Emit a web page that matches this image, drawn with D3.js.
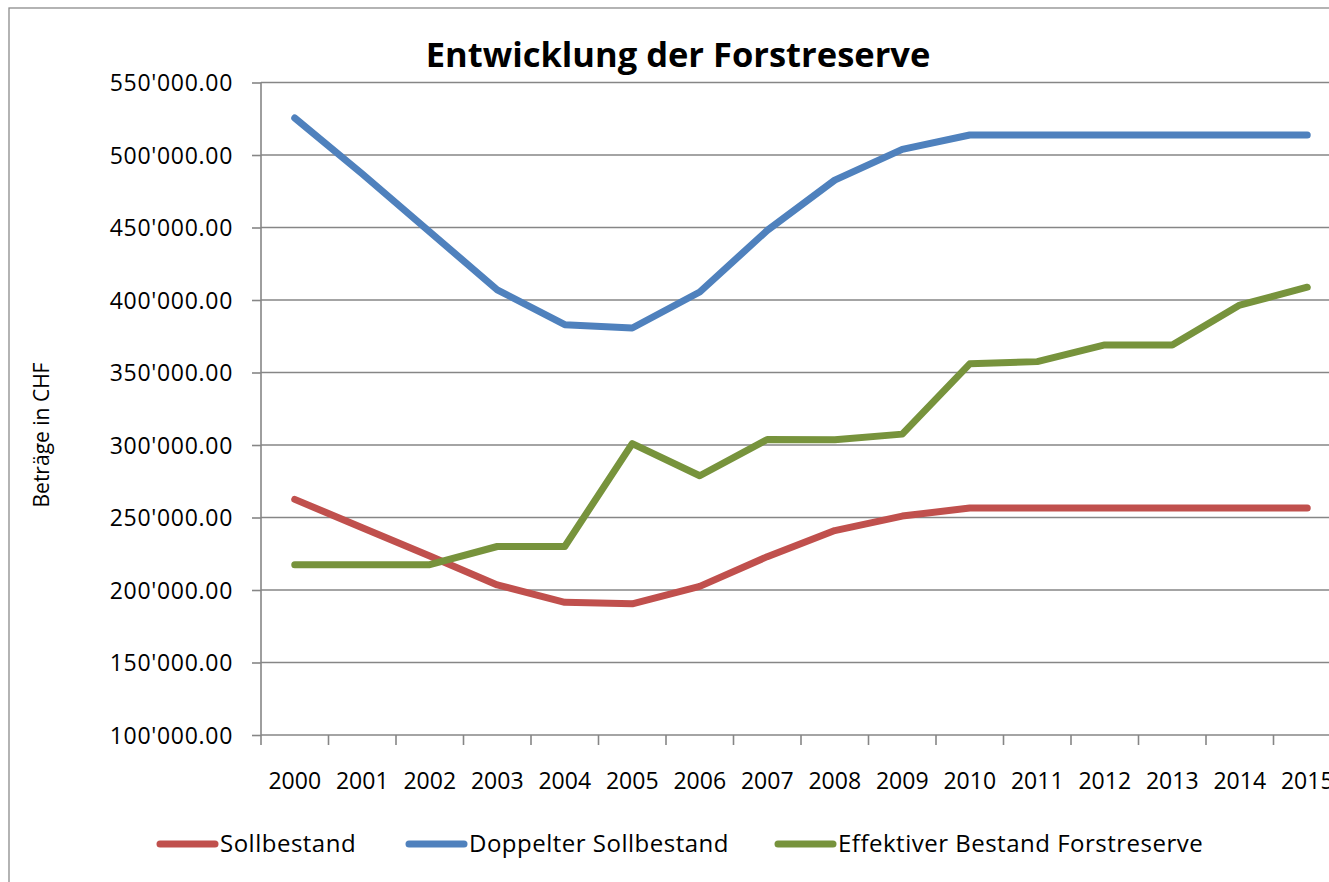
<!DOCTYPE html>
<html>
<head>
<meta charset="utf-8">
<script src="https://cdn.jsdelivr.net/npm/d3@7"></script>
<style>
  body { margin: 0; background: #fff; overflow: hidden; }
  svg { display: block; font-family: "Open Sans", "Noto Sans", sans-serif; }
  .grid line { stroke: #868686; stroke-width: 1.6; }
  .axis path, .axis line { stroke: #868686; stroke-width: 1.6; }
  .axis text { fill: #000; font-size: 23px; font-family: "Open Sans", "Noto Sans", sans-serif; }
  .yaxis text { letter-spacing: 0.7px; }
</style>
</head>
<body>
<svg id="chart"></svg>
<script>
// data
var years = ["2000", "2001", "2002", "2003", "2004", "2005", "2006", "2007",
  "2008", "2009", "2010", "2011", "2012", "2013", "2014", "2015"];
var sollbestand = [262500, 243000, 223500, 203500, 191500, 190500, 202500, 223000,
  241000, 251000, 256500, 256500, 256500, 256500, 256500, 256500];
var doppelterSoll = [525500, 487000, 447000, 407000, 383000, 380700, 405500, 448000,
  482700, 503900, 513800, 513800, 513800, 513800, 513800, 513800];
var effektiv = [217500, 217500, 217500, 230000, 230000, 301000, 278800, 303800,
  303600, 307500, 356000, 357500, 369000, 369000, 396500, 408800];
var yTicks = [100000, 150000, 200000, 250000, 300000, 350000, 400000, 450000, 500000, 550000];

var series = [
  { name: "Sollbestand", values: sollbestand, color: "#C0504D" },
  { name: "Doppelter Sollbestand", values: doppelterSoll, color: "#4F81BD" },
  { name: "Effektiver Bestand Forstreserve", values: effektiv, color: "#77933C" }
];

var screen = { width: 1329, height: 882 };
var plot = { left: 261, top: 82.5, right: 1341, bottom: 735 };

var svg = d3.select("#chart").attr("width", screen.width).attr("height", screen.height);

// outer chart border
svg.append("rect")
  .attr("x", 9).attr("y", 8)
  .attr("width", 1400).attr("height", 1000)
  .attr("fill", "none")
  .attr("stroke", "#8c8c8c")
  .attr("stroke-width", 1.3);

var xScale = d3.scaleBand().domain(years).range([plot.left, plot.right]);
var yScale = d3.scaleLinear().domain([100000, 550000]).range([plot.bottom, plot.top]);

var fmt = function (v) {
  return d3.format(",.2f")(v).replace(/,/g, "'");
};

// gridlines
svg.append("g").classed("grid", true)
  .selectAll("line")
  .data(yTicks.slice(1))
  .enter().append("line")
  .attr("x1", plot.left).attr("x2", plot.right)
  .attr("y1", function (d) { return yScale(d); })
  .attr("y2", function (d) { return yScale(d); });

// y axis
var yAxis = d3.axisLeft(yScale).tickValues(yTicks).tickFormat(fmt).tickSize(9).tickPadding(19);
svg.append("g").classed("axis", true).classed("yaxis", true)
  .attr("transform", "translate(" + plot.left + ",0)")
  .call(yAxis)
  .call(function (g) { g.select(".domain").attr("d", "M0," + plot.top + "V" + plot.bottom); })
  .selectAll("text").attr("dy", "0.35em");

// x axis
var xAxis = d3.axisBottom(xScale).tickSize(0).tickPadding(38);
var xg = svg.append("g").classed("axis", true)
  .attr("transform", "translate(0," + plot.bottom + ")")
  .call(xAxis);
xg.select(".domain").attr("d", "M" + plot.left + ",0H" + plot.right);
xg.selectAll(".bound")
  .data(years.concat(["end"]))
  .enter().append("line")
  .attr("stroke", "#868686").attr("stroke-width", 1.6)
  .attr("x1", function (d, i) { return plot.left + i * xScale.step(); })
  .attr("x2", function (d, i) { return plot.left + i * xScale.step(); })
  .attr("y1", 0).attr("y2", 10);

// lines
var line = d3.line()
  .x(function (d, i) { return xScale(years[i]) + xScale.bandwidth() / 2; })
  .y(function (d) { return yScale(d); });

svg.append("g").selectAll("path")
  .data(series)
  .enter().append("path")
  .attr("d", function (s) { return line(s.values); })
  .attr("fill", "none")
  .attr("stroke", function (s) { return s.color; })
  .attr("stroke-width", 7)
  .attr("stroke-linecap", "round")
  .attr("stroke-linejoin", "round");

// title
svg.append("text")
  .text("Entwicklung der Forstreserve")
  .attr("x", 678).attr("y", 67)
  .attr("text-anchor", "middle")
  .attr("font-size", 34.5).attr("font-weight", "bold");

// y title
svg.append("g")
  .attr("transform", "translate(49,435)")
  .append("text")
  .text("Beträge in CHF")
  .attr("text-anchor", "middle")
  .attr("font-size", 21)
  .attr("transform", "rotate(-90)");

// legend
var legendX = [160, 409, 778];
var lg = svg.append("g").selectAll("g")
  .data(series)
  .enter().append("g")
  .attr("transform", function (s, i) { return "translate(" + legendX[i] + ",844)"; });
lg.append("line")
  .attr("x1", 0).attr("x2", 55).attr("y1", 0).attr("y2", 0)
  .attr("stroke", function (s) { return s.color; })
  .attr("stroke-width", 7)
  .attr("stroke-linecap", "round");
lg.append("text")
  .text(function (s) { return s.name; })
  .attr("x", 60).attr("dy", "0.35em")
  .attr("font-size", 24)
  .attr("letter-spacing", 0.5);
</script>
</body>
</html>
